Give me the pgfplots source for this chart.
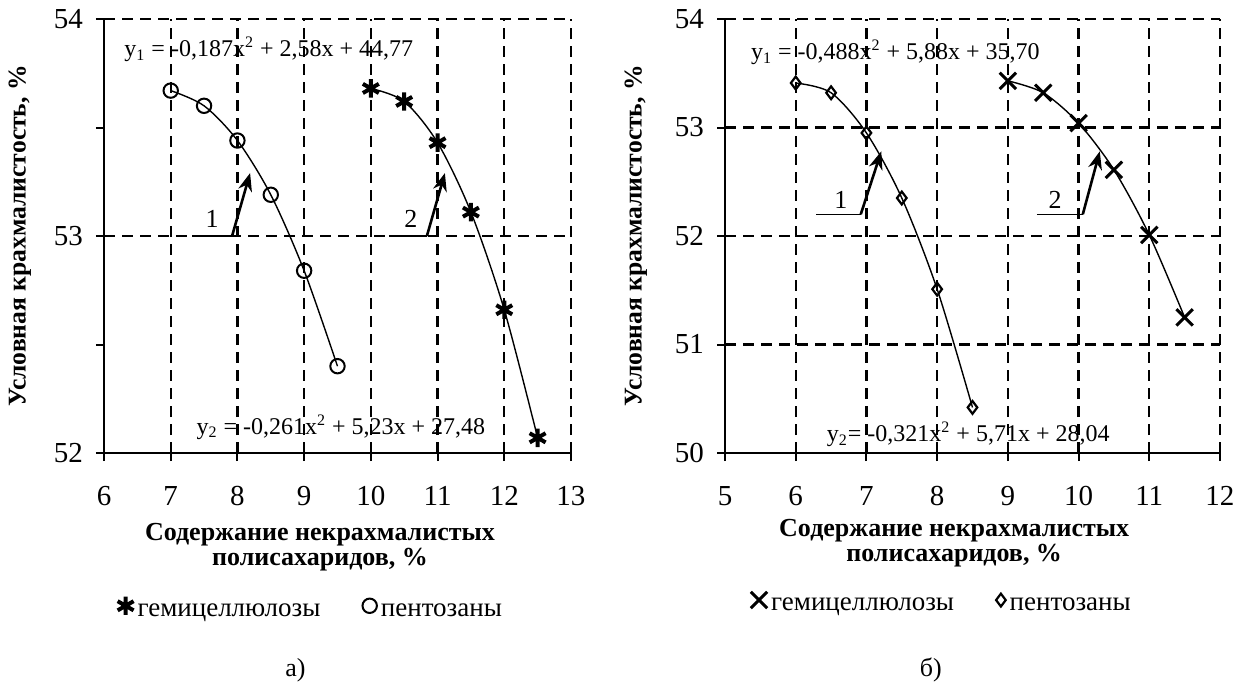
\documentclass[border=0pt]{standalone}
\usepackage{fontspec}
\setmainfont{Liberation Serif}
\usepackage{pgfplots}
\pgfplotsset{compat=1.18}
\usetikzlibrary{arrows.meta}

\tikzset{
  eq/.style={font=\fontsize{12}{12}\selectfont, inner sep=0pt},
  lbl/.style={font=\fontsize{13}{13}\selectfont, inner sep=0pt},
}
\pgfplotsset{
  panel/.style={
    scale only axis, anchor=south west,
    axis x line=bottom, axis y line=left,
    axis line style={line width=1pt,-},
    tick align=outside,
    major tick length=4pt, minor tick length=4pt,
    tick style={black, line width=1pt},
    grid=major,
    major grid style={black, line width=1.1pt, dash pattern=on 5.5pt off 3.5pt},
    /pgf/number format/assume math mode=true,
    ticklabel style={font=\fontsize{14.5}{14.5}\selectfont},
    xticklabel style={yshift=-9pt},
    yticklabel style={xshift=-3pt},
    xlabel style={font=\bfseries\fontsize{13}{12.5}\selectfont, align=center, anchor=center},
    ylabel style={font=\bfseries\fontsize{12.8}{13}\selectfont, at={(axis description cs:-0.18,0.5)}, anchor=center},
    legend style={draw=none, fill=none, font=\fontsize{13.5}{14}\selectfont,
      /tikz/every even column/.append style={column sep=19pt}, anchor=center},
    legend image post style={yshift=3pt},
    legend columns=2,
    legend cell align=left,
    clip=false,
  },
  curve/.style={black, line width=0.7pt, smooth, forget plot},
}

\begin{document}
\begin{tikzpicture}
\useasboundingbox (0,0) rectangle (619pt,343pt);

% ---------------- panel a ----------------
\begin{axis}[panel, at={(52pt,116.5pt)}, width=233.5pt, height=217pt,
  xmin=6, xmax=13, ymin=52, ymax=54,
  xtick={6,7,...,13}, ytick={52,53,54}, minor ytick={52.5,53.5},
  xlabel={Содержание некрахмалистых\\полисахаридов, \%},
  xlabel style={at={(axis description cs:0.4625,-0.216)}},
  ylabel={Условная крахмалистость, \%},
  legend style={at={(axis description cs:0.445,-0.362)}},
]
\addplot[curve] coordinates {(10,53.68) (10.5,53.62) (11,53.43) (11.5,53.11) (12,52.66) (12.5,52.07)};
\addplot[only marks, mark=asterisk, mark size=4.6pt, mark options={black, line width=2pt}]
  coordinates {(10,53.68) (10.5,53.62) (11,53.43) (11.5,53.11) (12,52.66) (12.5,52.07)};
\addlegendentry{гемицеллюлозы}
\addplot[curve] coordinates {(7,53.67) (7.5,53.60) (8,53.44) (8.5,53.19) (9,52.84) (9.5,52.40)};
\addplot[only marks, mark=o, mark size=3.6pt, mark options={black, fill=white, line width=1pt}]
  coordinates {(7,53.67) (7.5,53.60) (8,53.44) (8.5,53.19) (9,52.84) (9.5,52.40)};
\addlegendentry{пентозаны}

\node[eq] at (axis cs:8.47,53.86) {y\textsubscript{1} = -0,187x\textsuperscript{2} + 2,58x + 44,77};
\node[eq] at (axis cs:9.55,52.12) {y\textsubscript{2} = -0,261x\textsuperscript{2} + 5,23x + 27,48};

\draw[line width=0.8pt] (axis cs:7.32,53) -- (axis cs:7.92,53);
\draw[line width=1.3pt, -{Stealth[length=9pt,width=7pt]}] (axis cs:7.92,53) -- (axis cs:8.19,53.29);
\node[lbl] at (axis cs:7.62,53.08) {1};
\draw[line width=0.8pt] (axis cs:10.27,53) -- (axis cs:10.84,53);
\draw[line width=1.3pt, -{Stealth[length=9pt,width=7pt]}] (axis cs:10.84,53) -- (axis cs:11.11,53.29);
\node[lbl] at (axis cs:10.6,53.08) {2};

\node[lbl] at (axis description cs:0.41,-0.5) {а)};
\end{axis}

% ---------------- panel b ----------------
\begin{axis}[panel, at={(362.5pt,116.5pt)}, width=247.5pt, height=217pt,
  xmin=5, xmax=12, ymin=50, ymax=54,
  xtick={5,6,...,12}, ytick={50,51,52,53,54},
  xlabel={Содержание некрахмалистых\\полисахаридов, \%},
  xlabel style={at={(axis description cs:0.463,-0.208)}},
  ylabel={Условная крахмалистость, \%},
  legend style={at={(axis description cs:0.44,-0.35)}},
]
\addplot[curve] coordinates {(9,53.43) (9.5,53.32) (10,53.04) (10.5,52.61) (11,52.01) (11.5,51.25)};
\addplot[only marks, mark=x, mark size=5.8pt, mark options={black, line width=1.5pt}]
  coordinates {(9,53.43) (9.5,53.32) (10,53.04) (10.5,52.61) (11,52.01) (11.5,51.25)};
\addlegendentry{гемицеллюлозы}
\addplot[curve] coordinates {(6,53.41) (6.5,53.32) (7,52.95) (7.5,52.35) (8,51.51) (8.5,50.42)};
\addplot[only marks, mark=diamond, mark size=3.2pt, mark options={black, fill=white, line width=1.1pt}]
  coordinates {(6,53.41) (6.5,53.32) (7,52.95) (7.5,52.35) (8,51.51) (8.5,50.42)};
\addlegendentry{пентозаны}

\node[eq] at (axis cs:7.41,53.69) {y\textsubscript{1} = -0,488x\textsuperscript{2} + 5,88x + 35,70};
\node[eq] at (axis cs:8.44,50.17) {y\textsubscript{2}= -0,321x\textsuperscript{2} + 5,71x + 28,04};

\draw[line width=0.8pt] (axis cs:6.29,52.2) -- (axis cs:6.92,52.2);
\draw[line width=1.3pt, -{Stealth[length=9pt,width=7pt]}] (axis cs:6.92,52.2) -- (axis cs:7.21,52.78);
\node[lbl] at (axis cs:6.64,52.33) {1};
\draw[line width=0.8pt] (axis cs:9.41,52.2) -- (axis cs:10.06,52.2);
\draw[line width=1.3pt, -{Stealth[length=9pt,width=7pt]}] (axis cs:10.06,52.2) -- (axis cs:10.30,52.78);
\node[lbl] at (axis cs:9.67,52.33) {2};

\node[lbl] at (axis description cs:0.416,-0.5) {б)};
\end{axis}
\end{tikzpicture}
\end{document}
